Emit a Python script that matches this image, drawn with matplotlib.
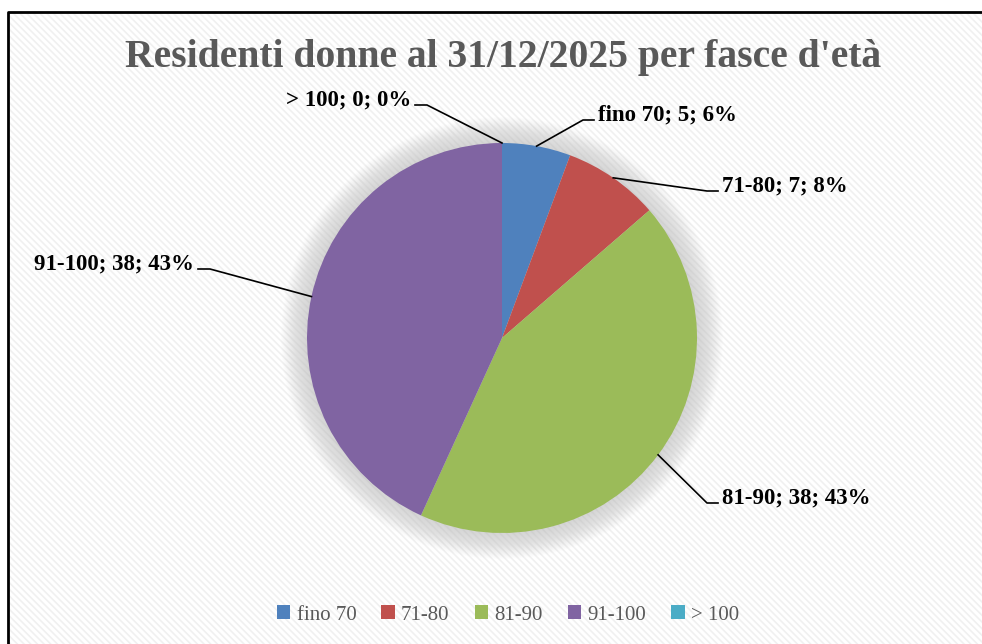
import numpy as np
import matplotlib
matplotlib.use("Agg")
import matplotlib.pyplot as plt
from matplotlib.patches import Rectangle, Circle, Patch

plt.rcParams["font.family"] = ["Liberation Serif", "DejaVu Serif"]
plt.rcParams["hatch.linewidth"] = 1.2

categories = ["fino 70", "71-80", "81-90", "91-100", "> 100"]
values = [5, 7, 38, 38, 0]
colors = ["#4F81BD", "#C0504D", "#9BBB59", "#8064A2", "#4BACC6"]
title = "Residenti donne al 31/12/2025 per fasce d'età"

W, H = 982, 644
fig = plt.figure(figsize=(W / 100, H / 100), dpi=100)
fig.patch.set_facecolor("white")
ax = fig.add_axes([0, 0, 1, 1])
ax.set_xlim(0, W); ax.set_ylim(0, H)
ax.set_aspect("equal"); ax.axis("off")

# hatched chart-area background and frame (left/top visible)
ax.add_patch(Rectangle((8, -10), W + 20, H - 12 + 10, facecolor="white",
                       edgecolor="#F0F0F0", hatch="\\\\\\\\\\", lw=0, zorder=0))
ax.plot([8, 8, W + 5], [-5, H - 12, H - 12], color="black", lw=2, zorder=1)

cx, cy, r = 502, H - 338, 195
# soft glow behind the pie
for k in range(26, 0, -1):
    ax.add_patch(Circle((cx, cy), r + k, color="#8C8C8C", alpha=0.013, lw=0, zorder=1))

wedges, _ = ax.pie(values, colors=colors, startangle=90, counterclock=False,
                   center=(cx, cy), radius=r, frame=True,
                   wedgeprops=dict(linewidth=0), textprops=dict(visible=False))
for w in wedges:
    w.set_zorder(2)
ax.set_xlim(0, W); ax.set_ylim(0, H); ax.axis("off")

total = sum(values)
# label text positions (pixel layout): (x, y, ha, elbow_x)
label_pos = [
    (598, 115, "left", 583),
    (722, 186, "left", 707),
    (722, 498, "left", 707),
    (194, 264, "right", 210),
    (411, 100, "right", 427),
]
cum = 0
for i, (cat, v) in enumerate(zip(categories, values)):
    mid = 90 - (cum + v / 2) / total * 360
    cum += v
    ax_x = cx + r * np.cos(np.radians(mid))
    ax_y = cy + r * np.sin(np.radians(mid))
    tx, ty, ha, ex = label_pos[i]
    pct = round(v / total * 100)
    ly = H - ty - 5
    ax.plot([ax_x, ex, tx + (-4 if ha == "left" else 4)], [ax_y, ly, ly],
            color="black", lw=1.2, zorder=3)
    ax.text(tx, H - ty, f"{cat}; {v}; {pct}%", ha=ha, va="center",
            fontsize=16.5, fontweight="bold", color="black", zorder=4)

ax.text(W / 2 + 12, H - 57, title, ha="center", va="center", fontsize=28.5,
        fontweight="bold", color="#595959", zorder=4)

handles = [Patch(facecolor=c, edgecolor="none") for c in colors]
leg = fig.legend(handles, categories, loc="center", bbox_to_anchor=(508 / W, 1 - 615 / H),
                 ncol=5, frameon=False, fontsize=15, handlelength=0.65, handleheight=0.65,
                 handletextpad=0.3, columnspacing=1.2)
for t in leg.get_texts():
    t.set_color("#595959")

fig.savefig("out.png", dpi=100)
